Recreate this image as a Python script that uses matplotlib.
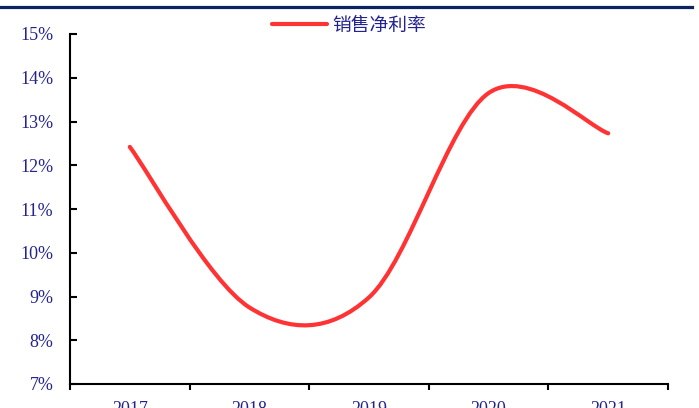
import matplotlib.pyplot as plt
from matplotlib.path import Path
from matplotlib.patches import PathPatch
from matplotlib.lines import Line2D
from matplotlib.ticker import PercentFormatter
import numpy as np

# Data
years = ["2017", "2018", "2019", "2020", "2021"]
net_margin = [12.42, 8.75, 8.98, 13.65, 12.73]   # 销售净利率, %

text_color = "#23238f"
line_color = "#ff3333"

plt.rcParams["font.family"] = ["Liberation Serif", "DejaVu Serif"]

fig = plt.figure(figsize=(6.99, 4.08), dpi=100)
ax = fig.add_axes([70 / 699, 1 - 384 / 408, 598 / 699, 350 / 408])

# smoothed line through the points (cubic Bezier, tension 1/6)
x = np.arange(len(years), dtype=float)
y = np.array(net_margin)
verts = [(x[0], y[0])]
codes = [Path.MOVETO]
n = len(x)
for i in range(n - 1):
    p0 = np.array([x[max(i - 1, 0)], y[max(i - 1, 0)]])
    p1 = np.array([x[i], y[i]])
    p2 = np.array([x[i + 1], y[i + 1]])
    p3 = np.array([x[min(i + 2, n - 1)], y[min(i + 2, n - 1)]])
    c1 = p1 + (p2 - p0) / 6
    c2 = p2 - (p3 - p1) / 6
    verts += [tuple(c1), tuple(c2), tuple(p2)]
    codes += [Path.CURVE4] * 3
ax.add_patch(PathPatch(Path(verts, codes), facecolor="none", edgecolor=line_color,
                       lw=3, capstyle="round", joinstyle="round"))

ax.set_xlim(-0.5, n - 0.5)
ax.set_ylim(7, 15)
ax.set_yticks(range(7, 16))
ax.yaxis.set_major_formatter(PercentFormatter(decimals=0))

# category labels centred, ticks on category boundaries
ax.set_xticks(x)
ax.set_xticklabels(years)
ax.set_xticks(np.arange(-0.5, n, 1.0), minor=True)
ax.tick_params(axis="x", which="major", length=0, pad=12, labelsize=13, labelcolor=text_color)
ax.tick_params(axis="x", which="minor", direction="out", length=4, width=1.5, color="black")
ax.tick_params(axis="y", direction="in", length=5, width=1.5, pad=12,
               labelsize=13, labelcolor=text_color)

for side in ["top", "right"]:
    ax.spines[side].set_visible(False)
for side in ["left", "bottom"]:
    ax.spines[side].set_linewidth(1.5)

# legend
handle = Line2D([], [], color=line_color, lw=3, solid_capstyle="round")
leg = fig.legend([handle], ["销售净利率"], loc="center", bbox_to_anchor=(349 / 699, 1 - 25 / 408),
                 frameon=False, handlelength=2.9, handletextpad=0.3,
                 prop={"family": ["Noto Sans CJK SC", "DejaVu Sans"], "size": 13.5})
for t in leg.get_texts():
    t.set_color(text_color)

# navy rule across the top
fig.add_artist(Line2D([0, 692 / 699], [1 - 6.5 / 408] * 2, color="#0b2460", lw=2.3,
                      transform=fig.transFigure))

fig.savefig("out.png", dpi=100)
